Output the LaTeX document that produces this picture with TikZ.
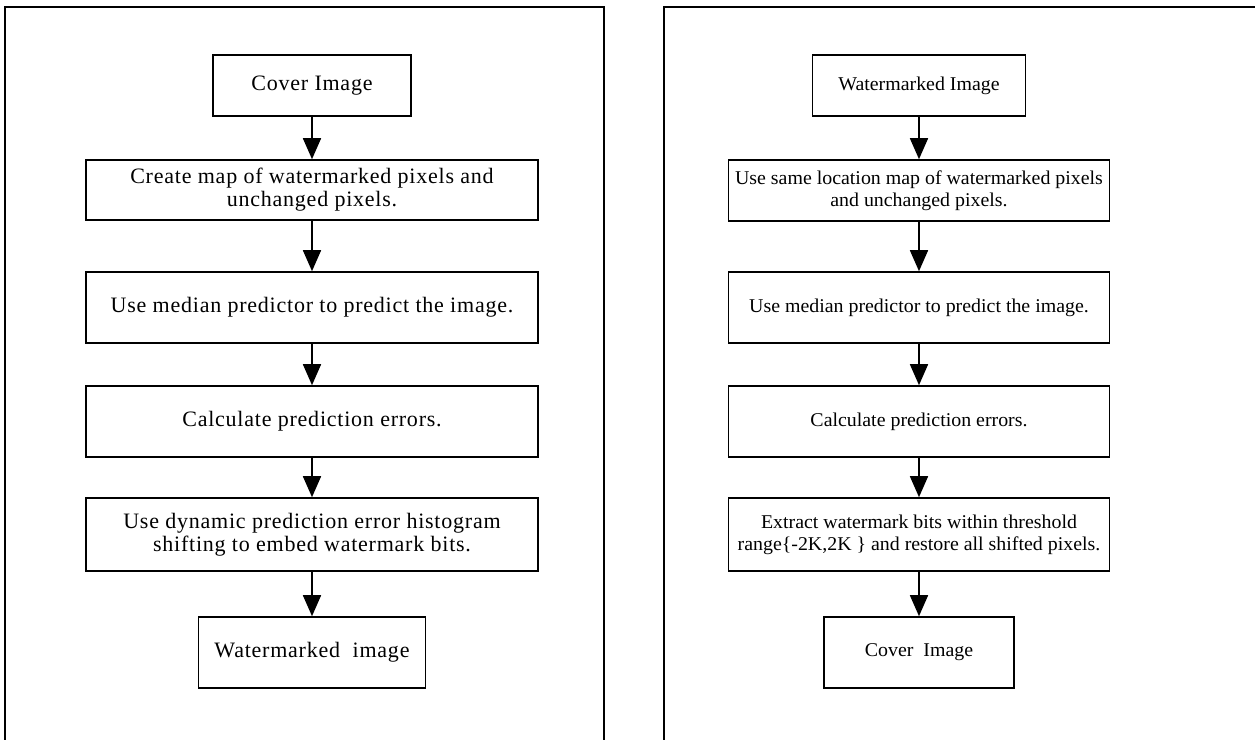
\documentclass[tikz,border=0pt]{standalone}
\usepackage{fontspec}
\setmainfont{Liberation Serif}
\newfontfamily\leftfont[LetterSpace=3.5]{Liberation Serif}
\newfontfamily\rightfont[FakeStretch=1.02]{Liberation Serif}
\usetikzlibrary{arrows.meta}
\begin{document}
\begin{tikzpicture}[x=0.5pt,y=-0.5pt,
  box/.style={draw, line width=0.8pt, inner sep=0pt, align=center},
  lbox/.style={box, font=\leftfont\fontsize{11}{11.5}\selectfont},
  rbox/.style={box, font=\rightfont\fontsize{9.75}{11}\selectfont},
  flow/.style={draw, line width=0.8pt, -{Triangle[width=9pt,length=10.5pt]}},
  panel/.style={draw, line width=1pt}]
\useasboundingbox (0,0) rectangle (1255,740);
\clip (0,0) rectangle (1255,740);
% panels
\coordinate (LF1) at (5,760);
\coordinate (LF2) at (5,7);
\coordinate (LF3) at (604,7);
\coordinate (LF4) at (604,760);
\coordinate (RF1) at (664,760);
\coordinate (RF2) at (664,7);
\coordinate (RF3) at (1270,7);
\draw[panel] (LF1) -- (LF2) -- (LF3) -- (LF4);
\draw[panel] (RF1) -- (RF2) -- (RF3);
% left column
\node[lbox, minimum width=99pt, minimum height=30.5pt] (a1) at (312,85.5) {Cover Image};
\node[lbox, minimum width=226pt, minimum height=30pt] (a2) at (312,190) {Create map of watermarked pixels and\\unchanged pixels.};
\node[lbox, minimum width=226pt, minimum height=35.5pt] (a3) at (312,307.5) {Use median predictor to predict the image.};
\node[lbox, minimum width=226pt, minimum height=35.5pt] (a4) at (312,421.5) {Calculate prediction errors.};
\node[lbox, minimum width=226pt, minimum height=36.5pt] (a5) at (312,534.5) {Use dynamic prediction error histogram\\shifting to embed watermark bits.};
\node[lbox, minimum width=113.5pt, minimum height=35.5pt] (a6) at (312,652.5) {Watermarked\ \ image};
% right column
\node[rbox, minimum width=106.5pt, minimum height=30.5pt] (b1) at (919,85.5) {Watermarked Image};
\node[rbox, minimum width=190.5pt, minimum height=30.5pt] (b2) at (919,190.5) {Use same location map of watermarked pixels\\and unchanged pixels.};
\node[rbox, minimum width=190.5pt, minimum height=35.5pt] (b3) at (919,307.5) {Use median predictor to predict the image.};
\node[rbox, minimum width=190.5pt, minimum height=35.5pt] (b4) at (919,421.5) {Calculate prediction errors.};
\node[rbox, minimum width=190.5pt, minimum height=36.5pt] (b5) at (919,534.5) {Extract watermark bits within threshold\\range\{-2K,2K \} and restore all shifted pixels.};
\node[rbox, minimum width=95pt, minimum height=35.5pt] (b6) at (919,652.5) {Cover\ \ Image};
% connectors
\draw[flow] (a1) -- (a2);
\draw[flow] (a2) -- (a3);
\draw[flow] (a3) -- (a4);
\draw[flow] (a4) -- (a5);
\draw[flow] (a5) -- (a6);
\draw[flow] (b1) -- (b2);
\draw[flow] (b2) -- (b3);
\draw[flow] (b3) -- (b4);
\draw[flow] (b4) -- (b5);
\draw[flow] (b5) -- (b6);
\end{tikzpicture}
\end{document}
